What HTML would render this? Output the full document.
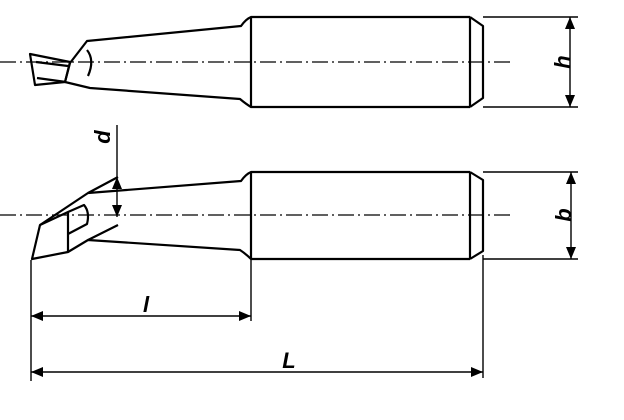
<!DOCTYPE html>
<html><head><style>html,body{margin:0;padding:0;background:#fff}svg{display:block}</style></head>
<body>
<svg width="624" height="420" viewBox="0 0 624 420" xmlns="http://www.w3.org/2000/svg" fill="none" stroke="#000" stroke-linejoin="round">
<g stroke-width="1.3" stroke-dasharray="16,4,2,4">
<line x1="0" y1="62" x2="510" y2="62"/>
<line x1="0" y1="215" x2="510" y2="215"/>
</g>
<g stroke-width="2.2">
<path d="M470,17 H251 Q246,19 241,26 L87,41 L70,63 L65,82"/>
<path d="M470,107 H251 Q246,104 240,99 L90,88 L65,82"/>
<path d="M251,17 V107"/>
<path d="M470,17 V107 M470,17 L483,26 V98 L470,107"/>
<path d="M30,54 L70,62 L65,82 L35,85 Z"/>
<path d="M36,62 L68,66 M37,78 L66,82"/>
<path d="M87,50 Q95,60 88,76"/>
</g>
<g stroke-width="2.2">
<path d="M470,172 H251 Q246,174 241,181 L88,193 L40,225 L32,259 L68,252 L88,240 L240,250 Q246,254 251,259 H470"/>
<path d="M251,172 V259"/>
<path d="M470,172 V259 M470,172 L483,180 V251 L470,259"/>
<path d="M40,225 L68,212 L68,252"/>
<path d="M68,212 L84,205 Q90,212 87,224 L68,234"/>
<path d="M88,193 L118,177 M88,240 L118,225"/>
</g>
<g stroke-width="1.4">
<line x1="483" y1="17" x2="578" y2="17"/>
<line x1="483" y1="107" x2="578" y2="107"/>
<line x1="570" y1="17" x2="570" y2="107"/>
<line x1="483" y1="172" x2="578" y2="172"/>
<line x1="483" y1="259" x2="578" y2="259"/>
<line x1="571" y1="172" x2="571" y2="259"/>
<line x1="117" y1="125" x2="117" y2="217"/>
<line x1="31" y1="260" x2="31" y2="381"/>
<line x1="251" y1="259" x2="251" y2="321"/>
<line x1="483" y1="255" x2="483" y2="378"/>
<line x1="31" y1="316" x2="251" y2="316"/>
<line x1="31" y1="372" x2="483" y2="372"/>
</g>
<g fill="#000" stroke="none">
<path d="M570,17 l-5,12 h10z M570,107 l-5,-12 h10z"/>
<path d="M571,172 l-5,12 h10z M571,259 l-5,-12 h10z"/>
<path d="M117,177 l-5,12 h10z M117,217 l-5,-12 h10z"/>
<path d="M31,316 l12,-5 v10z M251,316 l-12,-5 v10z"/>
<path d="M31,372 l12,-5 v10z M483,372 l-12,-5 v10z"/>
</g>
<g fill="#000" stroke="none" font-family="Liberation Sans, sans-serif" font-weight="bold" font-style="italic" font-size="22">
<text x="0" y="0" transform="translate(570,62) rotate(-90)" text-anchor="middle">h</text>
<text x="0" y="0" transform="translate(571,215) rotate(-90)" text-anchor="middle">b</text>
<text x="0" y="0" transform="translate(110,137) rotate(-90)" text-anchor="middle">d</text>
<text x="146" y="312" text-anchor="middle">l</text>
<text x="289" y="368" text-anchor="middle">L</text>
</g>
</svg>
</body></html>
